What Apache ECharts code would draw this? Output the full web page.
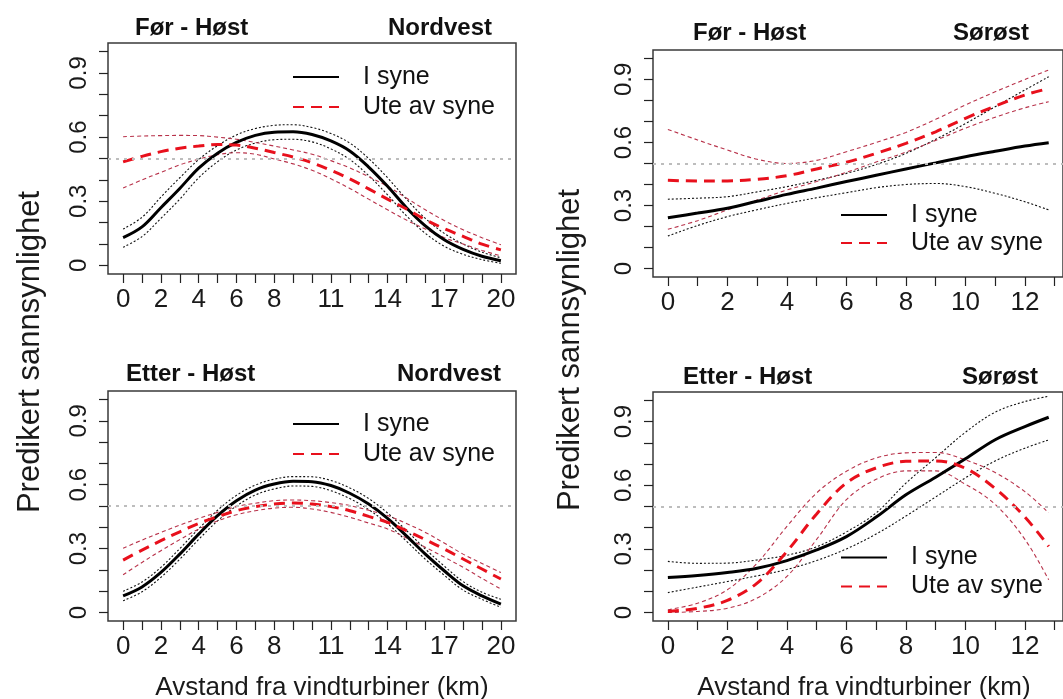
<!DOCTYPE html>
<html>
<head>
<meta charset="utf-8">
<script src="https://cdn.jsdelivr.net/npm/echarts@6/dist/echarts.min.js"></script>
<style>
html,body{margin:0;padding:0;background:#fff;}
#c{width:1063px;height:699px;}
</style>
</head>
<body>
<div id="c"></div>
<script>
// ---------- data ----------
const xNW = [0,1,2,3,4,5,6,7,8,9,10,11,12,13,14,15,16,17,18,19,20];
const xSE = [0,1,2,3,4,5,6,7,8,9,10,11,12,12.8];

const xTicksNW = [0,1,2,3,4,5,6,7,8,9,10,11,12,13,14,15,16,17,18,19,20];
const xLabelsNW = [0,2,4,6,8,11,14,17,20];
const xTicksSE = [0,1,2,3,4,5,6,7,8,9,10,11,12,13];
const xLabelsSE = [0,2,4,6,8,10,12];
const yTicks = [0,0.1,0.2,0.3,0.4,0.5,0.6,0.7,0.8,0.9,1];
const yLabels = [0,0.3,0.6,0.9];
const refLevel = 0.5;

const seriesNames = ['I syne','Ute av syne'];
const panelTitlesLeft = ['Før - Høst','Før - Høst','Etter - Høst','Etter - Høst'];
const panelTitlesRight = ['Nordvest','Sørøst','Nordvest','Sørøst'];
const yAxisTitle = 'Predikert sannsynlighet';
const xAxisTitle = 'Avstand fra vindturbiner (km)';

// Før - Høst, Nordvest
const foerNW_iSyne    = [0.13,0.18,0.27,0.36,0.455,0.525,0.575,0.608,0.623,0.625,0.612,0.582,0.535,0.46,0.37,0.27,0.185,0.12,0.075,0.043,0.022];
const foerNW_iSyneLo  = [0.085,0.135,0.22,0.31,0.41,0.485,0.54,0.572,0.588,0.59,0.578,0.545,0.495,0.42,0.33,0.232,0.15,0.09,0.052,0.027,0.01];
const foerNW_iSyneHi  = [0.17,0.225,0.32,0.41,0.495,0.56,0.61,0.64,0.655,0.658,0.645,0.617,0.572,0.5,0.41,0.31,0.22,0.15,0.1,0.062,0.036];
const foerNW_ute      = [0.484,0.51,0.532,0.548,0.558,0.565,0.563,0.548,0.528,0.507,0.48,0.445,0.405,0.358,0.31,0.264,0.214,0.172,0.136,0.1,0.073];
const foerNW_uteLo    = [0.362,0.4,0.435,0.47,0.497,0.518,0.527,0.52,0.498,0.475,0.445,0.405,0.36,0.31,0.26,0.212,0.17,0.13,0.1,0.07,0.045];
const foerNW_uteHi    = [0.602,0.605,0.607,0.608,0.607,0.6,0.59,0.575,0.558,0.54,0.52,0.49,0.456,0.415,0.37,0.315,0.26,0.21,0.167,0.13,0.097];

// Før - Høst, Sørøst
const foerSE_iSyne    = [0.242,0.264,0.287,0.32,0.353,0.383,0.414,0.444,0.474,0.503,0.532,0.558,0.583,0.599];
const foerSE_iSyneLo  = [0.155,0.205,0.247,0.28,0.31,0.337,0.361,0.385,0.4,0.405,0.39,0.358,0.318,0.279];
const foerSE_iSyneHi  = [0.33,0.335,0.342,0.365,0.39,0.42,0.453,0.495,0.548,0.615,0.69,0.77,0.85,0.913];
const foerSE_ute      = [0.42,0.417,0.417,0.425,0.442,0.474,0.506,0.548,0.596,0.651,0.715,0.773,0.826,0.857];
const foerSE_uteLo    = [0.187,0.228,0.279,0.326,0.374,0.414,0.458,0.507,0.554,0.61,0.668,0.72,0.765,0.794];
const foerSE_uteHi    = [0.662,0.612,0.564,0.52,0.5,0.515,0.556,0.6,0.648,0.71,0.778,0.841,0.9,0.945];

// Etter - Høst, Nordvest
const etterNW_iSyne   = [0.078,0.12,0.188,0.274,0.368,0.455,0.525,0.575,0.603,0.616,0.614,0.596,0.56,0.509,0.442,0.36,0.274,0.196,0.125,0.078,0.039];
const etterNW_iSyneLo = [0.055,0.097,0.165,0.25,0.343,0.43,0.5,0.552,0.58,0.594,0.592,0.572,0.535,0.483,0.417,0.335,0.25,0.175,0.105,0.062,0.024];
const etterNW_iSyneHi = [0.1,0.143,0.212,0.3,0.393,0.48,0.55,0.598,0.626,0.638,0.637,0.62,0.585,0.535,0.467,0.385,0.298,0.218,0.145,0.095,0.062];
const etterNW_ute     = [0.246,0.293,0.337,0.379,0.418,0.45,0.478,0.497,0.509,0.514,0.509,0.497,0.478,0.451,0.423,0.384,0.342,0.298,0.251,0.204,0.157];
const etterNW_uteLo   = [0.177,0.235,0.29,0.342,0.392,0.43,0.459,0.478,0.49,0.494,0.486,0.47,0.447,0.42,0.392,0.35,0.306,0.26,0.212,0.16,0.11];
const etterNW_uteHi   = [0.302,0.34,0.376,0.41,0.442,0.47,0.497,0.513,0.525,0.528,0.525,0.516,0.502,0.48,0.455,0.418,0.376,0.326,0.274,0.23,0.188];

// Etter - Høst, Sørøst
const etterSE_iSyne   = [0.165,0.175,0.189,0.209,0.245,0.295,0.358,0.45,0.555,0.638,0.725,0.815,0.877,0.921];
const etterSE_iSyneLo = [0.094,0.12,0.146,0.173,0.203,0.245,0.3,0.37,0.455,0.545,0.635,0.715,0.775,0.814];
const etterSE_iSyneHi = [0.241,0.232,0.233,0.248,0.27,0.31,0.38,0.47,0.61,0.73,0.85,0.945,0.995,1.02];
const etterSE_ute     = [0.005,0.02,0.057,0.139,0.288,0.465,0.611,0.682,0.713,0.715,0.68,0.585,0.45,0.312];
const etterSE_uteLo   = [0.0,0.005,0.02,0.068,0.17,0.345,0.532,0.628,0.668,0.668,0.605,0.51,0.345,0.154];
const etterSE_uteHi   = [0.013,0.044,0.107,0.233,0.406,0.564,0.666,0.729,0.753,0.755,0.72,0.66,0.57,0.47];

// ---------- layout ----------
const FONT = "'Liberation Sans', Arial, sans-serif";
const panels = [
  {grid:{left:108,top:43,width:408,height:231}, xmin:-0.8, xmax:20.8, x:xNW, ticks:xTicksNW, labels:xLabelsNW,
   d:[foerNW_iSyne,foerNW_iSyneLo,foerNW_iSyneHi,foerNW_ute,foerNW_uteLo,foerNW_uteHi],
   legend:{left:292,top:62,lh:30}, tl:{left:135,top:16}, tr:{left:388,top:16}},
  {grid:{left:653,top:50,width:416,height:227}, xmin:-0.5, xmax:13.28, x:xSE, ticks:xTicksSE, labels:xLabelsSE,
   d:[foerSE_iSyne,foerSE_iSyneLo,foerSE_iSyneHi,foerSE_ute,foerSE_uteLo,foerSE_uteHi],
   legend:{left:840,top:201,lh:28}, tl:{left:693,top:21}, tr:{left:953,top:21}},
  {grid:{left:108,top:391,width:408,height:230}, xmin:-0.8, xmax:20.8, x:xNW, ticks:xTicksNW, labels:xLabelsNW,
   d:[etterNW_iSyne,etterNW_iSyneLo,etterNW_iSyneHi,etterNW_ute,etterNW_uteLo,etterNW_uteHi],
   legend:{left:292,top:409,lh:30}, tl:{left:126,top:362}, tr:{left:397,top:362}},
  {grid:{left:653,top:392,width:416,height:229}, xmin:-0.5, xmax:13.28, x:xSE, ticks:xTicksSE, labels:xLabelsSE,
   d:[etterSE_iSyne,etterSE_iSyneLo,etterSE_iSyneHi,etterSE_ute,etterSE_uteLo,etterSE_uteHi],
   legend:{left:840,top:543,lh:29}, tl:{left:683,top:365}, tr:{left:962,top:365}}
];

const zip = (xs, ys) => xs.map((x,i)=>[x, ys[i]]);

const grid=[], xAxis=[], yAxis=[], series=[], legend=[], title=[];
panels.forEach((p,i)=>{
  grid.push(Object.assign({show:true, borderColor:'#3a3a3a', borderWidth:1.5, backgroundColor:'transparent'}, p.grid));
  xAxis.push({type:'value', gridIndex:i, min:p.xmin, max:p.xmax,
    axisLine:{show:false, onZero:false}, splitLine:{show:false},
    axisTick:{show:true, inside:false, length:9, lineStyle:{color:'#222', width:1.2}, customValues:p.ticks},
    axisLabel:{show:true, margin:13, fontSize:26, color:'#1a1a1a', fontFamily:FONT, customValues:p.labels,
      formatter:v=>String(v)}});
  yAxis.push({type:'value', gridIndex:i, min:-0.04, max:1.04,
    axisLine:{show:false, onZero:false}, splitLine:{show:false},
    axisTick:{show:true, inside:false, length:9, lineStyle:{color:'#222', width:1.2}, customValues:yTicks},
    axisLabel:{show:true, rotate:90, margin:17, fontSize:24, color:'#1a1a1a', fontFamily:FONT, customValues:yLabels,
      formatter:v=>String(Math.round(v*10)/10)}});
  const base = {type:'line', xAxisIndex:i, yAxisIndex:i, symbol:'none', showSymbol:false, smooth:0.35, silent:true, animation:false, clip:false};
  // reference line
  series.push(Object.assign({}, base, {name:'ref'+i, data:[],
    markLine:{silent:true, symbol:'none', label:{show:false},
      lineStyle:{color:'#bdbdbd', type:[3,5], width:2}, data:[{yAxis:refLevel}]}}));
  series.push(Object.assign({}, base, {name:'ci_b_lo'+i, data:zip(p.x,p.d[1]), lineStyle:{color:'#111', width:1.1, type:[2,2]}}));
  series.push(Object.assign({}, base, {name:'ci_b_hi'+i, data:zip(p.x,p.d[2]), lineStyle:{color:'#111', width:1.1, type:[2,2]}}));
  series.push(Object.assign({}, base, {name:'ci_r_lo'+i, data:zip(p.x,p.d[4]), lineStyle:{color:'#b8324a', width:1.1, type:[4,3]}}));
  series.push(Object.assign({}, base, {name:'ci_r_hi'+i, data:zip(p.x,p.d[5]), lineStyle:{color:'#b8324a', width:1.1, type:[4,3]}}));
  series.push(Object.assign({}, base, {name:seriesNames[0], data:zip(p.x,p.d[0]), lineStyle:{color:'#000', width:3, type:'solid'}, itemStyle:{color:'#000'}}));
  series.push(Object.assign({}, base, {name:seriesNames[1], data:zip(p.x,p.d[3]), lineStyle:{color:'#e8101c', width:3, type:[11,7]}, itemStyle:{color:'#e8101c'}}));

  legend.push({orient:'vertical', left:p.legend.left, top:p.legend.top, padding:0, itemGap:0,
    itemWidth:46, itemHeight:14, selectedMode:false, data:seriesNames,
    itemStyle:{opacity:0, borderWidth:0},
    textStyle:{fontSize:25, fontFamily:FONT, color:'#111', lineHeight:p.legend.lh, padding:[0,0,0,19]}});

  title.push({text:panelTitlesLeft[i], left:p.tl.left, top:p.tl.top, padding:0,
    textStyle:{fontSize:24, fontWeight:'bold', fontFamily:FONT, color:'#111'}});
  title.push({text:panelTitlesRight[i], left:p.tr.left, top:p.tr.top, padding:0,
    textStyle:{fontSize:24, fontWeight:'bold', fontFamily:FONT, color:'#111'}});
});

const chart = echarts.init(document.getElementById('c'), null, {renderer:'canvas'});
chart.setOption({
  animation:false,
  backgroundColor:'#ffffff',
  grid, xAxis, yAxis, series, legend, title,
  graphic:[
    {type:'text', x:30, y:352, rotation:Math.PI/2, style:{text:yAxisTitle, fontSize:31, fontFamily:FONT, fill:'#1a1a1a', align:'center', verticalAlign:'middle'}},
    {type:'text', x:570, y:350, rotation:Math.PI/2, style:{text:yAxisTitle, fontSize:31, fontFamily:FONT, fill:'#1a1a1a', align:'center', verticalAlign:'middle'}},
    {type:'text', x:322, y:688, style:{text:xAxisTitle, fontSize:26, fontFamily:FONT, fill:'#1a1a1a', align:'center', verticalAlign:'middle'}},
    {type:'text', x:864, y:688, style:{text:xAxisTitle, fontSize:26, fontFamily:FONT, fill:'#1a1a1a', align:'center', verticalAlign:'middle'}}
  ]
});
</script>
</body>
</html>
